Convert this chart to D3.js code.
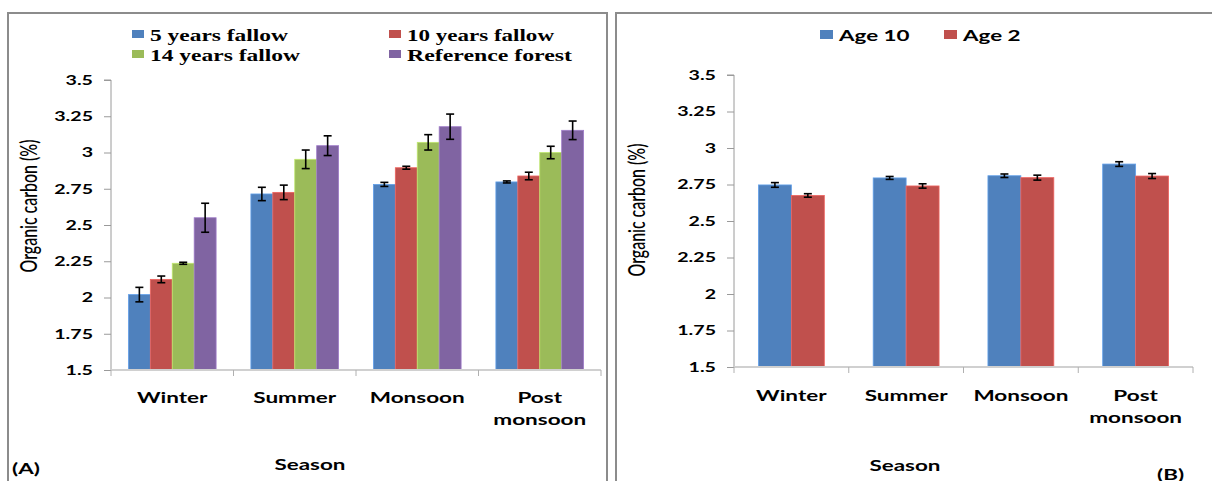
<!DOCTYPE html>
<html>
<head>
<meta charset="utf-8">
<script src="https://cdn.jsdelivr.net/npm/d3@7"></script>
<style>
  html, body { margin: 0; padding: 0; background: #fff; }
  svg { display: block; }
</style>
</head>
<body>
<svg id="chart" width="1212" height="481"></svg>
<script>
// Seasons on the category axis (second line of a label follows "|")
const seasons = ["Winter", "Summer", "Monsoon", "Post|monsoon"];
const yTicks = [1.5, 1.75, 2, 2.25, 2.5, 2.75, 3, 3.25, 3.5];

// Panel A: fallow ages and reference forest
const seriesA = ["5 years fallow", "10 years fallow", "14 years fallow", "Reference forest"];
const fallow5 = [2.02, 2.714, 2.78, 2.797];
const fallow5Err = [0.05, 0.046, 0.014, 0.007];
const fallow10 = [2.125, 2.725, 2.895, 2.838];
const fallow10Err = [0.023, 0.05, 0.01, 0.026];
const fallow14 = [2.236, 2.953, 3.07, 3.0];
const fallow14Err = [0.007, 0.064, 0.053, 0.043];
const refForest = [2.55, 3.047, 3.178, 3.153];
const refForestErr = [0.10, 0.068, 0.087, 0.064];

// Panel B: plantation ages
const seriesB = ["Age 10", "Age 2"];
const age10 = [2.747, 2.795, 2.81, 2.89];
const age10Err = [0.016, 0.01, 0.012, 0.016];
const age2 = [2.675, 2.74, 2.797, 2.808];
const age2Err = [0.012, 0.015, 0.017, 0.017];

const colors = ["#4F81BD", "#C0504D", "#9BBB59", "#8064A2"];
const sansBold = "Lato, 'Open Sans', sans-serif";

const svg = d3.select("#chart");

// Widen a text element horizontally by factor k
function widen(sel, k) {
  sel.each(function () {
    const w = this.getComputedTextLength();
    d3.select(this).attr("textLength", w * k).attr("lengthAdjust", "spacingAndGlyphs");
  });
  return sel;
}

function drawPanel(cfg) {
  const g = svg.append("g");

  // panel frame
  g.append("rect")
    .attr("x", cfg.frame[0]).attr("y", cfg.frame[1])
    .attr("width", cfg.frame[2]).attr("height", cfg.frame[3])
    .attr("fill", "none").attr("stroke", "#8c8c8c").attr("stroke-width", 2);

  const x = d3.scaleBand().domain(seasons).range([cfg.x0, cfg.x1]).padding(0);
  const xs = d3.scaleBand().domain(cfg.names)
    .range([x.bandwidth() * cfg.gap, x.bandwidth() * (1 - cfg.gap)]).padding(0);
  const y = d3.scaleLinear().domain([1.5, 3.5]).range([cfg.y1, cfg.y0]);

  // y axis
  const yAxis = g.append("g").attr("transform", `translate(${cfg.x0},0)`)
    .call(d3.axisLeft(y).tickValues(yTicks).tickSize(7).tickPadding(11).tickFormat(d => String(d)));
  yAxis.select(".domain").attr("stroke", "#9a9a9a").attr("d", `M-7,${cfg.y0}H0V${cfg.y1}`);
  yAxis.selectAll(".tick line").attr("stroke", "#9a9a9a");
  yAxis.selectAll(".tick text")
    .attr("fill", "#000").style("font", `bold 14px ${sansBold}`)
    .call(widen, 1.4);

  // bars
  cfg.values.forEach((vals, si) => {
    const sg = g.append("g");
    sg.selectAll("rect").data(vals).join("rect")
      .attr("x", (d, i) => x(seasons[i]) + xs(cfg.names[si]))
      .attr("y", d => y(d))
      .attr("width", xs.bandwidth())
      .attr("height", d => y(1.5) - y(d))
      .attr("fill", colors[si])
      .attr("stroke", d3.color(colors[si]).brighter(0.6))
      .attr("stroke-width", 0.8);
  });

  // x axis
  const xAxis = g.append("g").attr("transform", `translate(0,${cfg.y1})`);
  xAxis.append("line").attr("x1", cfg.x0).attr("x2", cfg.x1)
    .attr("stroke", "#d0d0d0").attr("stroke-width", 2);
  xAxis.selectAll("line.tk").data(d3.range(seasons.length + 1)).join("line")
    .attr("class", "tk")
    .attr("x1", i => cfg.x0 + i * x.step()).attr("x2", i => cfg.x0 + i * x.step())
    .attr("y1", 0).attr("y2", 6).attr("stroke", "#b0b0b0");

  // error bars
  cfg.values.forEach((vals, si) => {
    const eg = g.append("g").attr("stroke", "#000").attr("stroke-width", 1.6);
    vals.forEach((v, i) => {
      const e = cfg.errors[si][i];
      const cx = x(seasons[i]) + xs(cfg.names[si]) + xs.bandwidth() / 2;
      eg.append("line").attr("x1", cx).attr("x2", cx).attr("y1", y(v + e)).attr("y2", y(v - e));
      eg.append("line").attr("x1", cx - 4).attr("x2", cx + 4).attr("y1", y(v + e)).attr("y2", y(v + e));
      eg.append("line").attr("x1", cx - 4).attr("x2", cx + 4).attr("y1", y(v - e)).attr("y2", y(v - e));
    });
  });

  // category labels
  seasons.forEach(s => {
    const cx = x(s) + x.bandwidth() / 2;
    s.split("|").forEach((line, li) => {
      g.append("text").attr("x", cx).attr("y", cfg.catY + li * 22)
        .attr("text-anchor", "middle").attr("dominant-baseline", "central")
        .style("font", `bold 15px ${sansBold}`).attr("fill", "#000")
        .text(line).call(widen, 1.5);
    });
  });

  // axis titles
  g.append("text")
    .attr("transform", `translate(${cfg.titleX},${(cfg.y0 + cfg.y1) / 2 + cfg.titleDy}) scale(1.4,1) rotate(-90)`)
    .attr("text-anchor", "middle").attr("dominant-baseline", "central")
    .style("font", `500 17px ${sansBold}`).attr("fill", "#000")
    .attr("textLength", 133).attr("lengthAdjust", "spacingAndGlyphs")
    .text("Organic carbon (%)");

  g.append("text").attr("x", cfg.seasonX).attr("y", cfg.seasonY)
    .attr("text-anchor", "middle").attr("dominant-baseline", "central")
    .style("font", `bold 16px ${sansBold}`).attr("fill", "#000")
    .text("Season").call(widen, 1.4);

  g.append("text").attr("x", cfg.tagX).attr("y", cfg.tagY)
    .attr("dominant-baseline", "central")
    .style("font", `bold 16px ${sansBold}`).attr("fill", "#000")
    .text(cfg.tag).call(widen, 1.4);

  return g;
}

// Panel A
const gA = drawPanel({
  frame: [8, 13, 599, 490],
  x0: 111, x1: 601, y0: 80, y1: 370, gap: 0.142,
  names: seriesA,
  values: [fallow5, fallow10, fallow14, refForest],
  errors: [fallow5Err, fallow10Err, fallow14Err, refForestErr],
  catY: 397, titleX: 28, titleDy: -19,
  seasonX: 310, seasonY: 463, tag: "(A)", tagX: 12, tagY: 467
});

// Panel A legend: two rows of two entries
const legA = gA.append("g");
const legAPos = [[132, 34], [389, 34], [132, 54], [389, 54]];
const legAWidths = [138, 147, 150, 165];
seriesA.forEach((name, i) => {
  const [lx, ly] = legAPos[i];
  legA.append("rect").attr("x", lx).attr("y", ly - 4).attr("width", 12).attr("height", 8).attr("fill", colors[i]);
  legA.append("text").attr("x", lx + 18).attr("y", ly + 1)
    .attr("dominant-baseline", "central")
    .style("font", "bold 16px 'Liberation Serif', 'Times New Roman', serif").attr("fill", "#000")
    .attr("textLength", legAWidths[i]).attr("lengthAdjust", "spacingAndGlyphs")
    .text(name);
});

// Panel B
const gB = drawPanel({
  frame: [616, 13, 620, 490],
  x0: 734, x1: 1193, y0: 75, y1: 367, gap: 0.213,
  names: seriesB,
  values: [age10, age2],
  errors: [age10Err, age2Err],
  catY: 395, titleX: 636, titleDy: -11,
  seasonX: 905, seasonY: 464, tag: "(B)", tagX: 1157, tagY: 473
});

// Panel B legend: one row
const legB = gB.append("g");
const legBPos = [820, 944];
seriesB.forEach((name, i) => {
  legB.append("rect").attr("x", legBPos[i]).attr("y", 30).attr("width", 13).attr("height", 9).attr("fill", colors[i]);
  legB.append("text").attr("x", legBPos[i] + 19).attr("y", 34)
    .attr("dominant-baseline", "central")
    .style("font", `bold 16px ${sansBold}`).attr("fill", "#000")
    .text(name).call(widen, 1.4);
});
</script>
</body>
</html>
